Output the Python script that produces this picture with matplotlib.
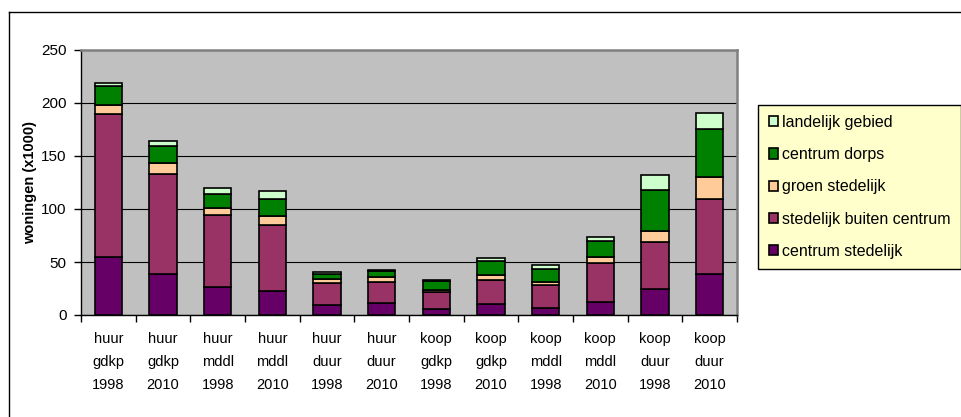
import matplotlib
matplotlib.use("Agg")
import matplotlib.pyplot as plt
import numpy as np
from matplotlib.lines import Line2D

plt.rcParams['font.family'] = ['Liberation Sans', 'DejaVu Sans']

# data (x1000 woningen)
categories = ["huur\ngdkp\n1998", "huur\ngdkp\n2010", "huur\nmddl\n1998", "huur\nmddl\n2010",
              "huur\nduur\n1998", "huur\nduur\n2010", "koop\ngdkp\n1998", "koop\ngdkp\n2010",
              "koop\nmddl\n1998", "koop\nmddl\n2010", "koop\nduur\n1998", "koop\nduur\n2010"]
centrum_stedelijk = [55, 39, 26, 23, 9, 11, 6, 10, 7, 12.5, 24.5, 39]
stedelijk_buiten = [135, 94, 68, 62, 21, 20.5, 16, 23, 21.5, 36.5, 44.5, 70.5]
groen_stedelijk = [8, 10, 7, 8.5, 4, 4, 2, 4.5, 2.5, 6, 10.5, 20.5]
centrum_dorps = [18, 16, 13, 16, 4.5, 6, 8, 13.5, 12.5, 14.5, 38, 45]
landelijk_gebied = [3, 5, 6, 7.5, 2, 1.2, 1.2, 3, 4, 4.5, 14.5, 15.5]

series = [("centrum stedelijk", centrum_stedelijk, "#660066"),
          ("stedelijk buiten centrum", stedelijk_buiten, "#993366"),
          ("groen stedelijk", groen_stedelijk, "#FFCC99"),
          ("centrum dorps", centrum_dorps, "#008000"),
          ("landelijk gebied", landelijk_gebied, "#CCFFCC")]

W, H = 962, 417
fig = plt.figure(figsize=(W / 100, H / 100), dpi=100)
fig.patch.set_facecolor("white")

# outer chart frame (cut off at right and bottom)
fig.add_artist(Line2D([9 / W, 1.0], [1 - 12 / H, 1 - 12 / H], color="black", lw=1, transform=fig.transFigure))
fig.add_artist(Line2D([9 / W, 9 / W], [0, 1 - 12 / H], color="black", lw=1, transform=fig.transFigure))

ax = fig.add_axes([81 / W, 1 - 315 / H, (737 - 81) / W, (315 - 50) / H])
ax.set_facecolor("#C0C0C0")

x = np.arange(len(categories))
bottom = np.zeros(len(categories))
handles = []
for name, vals, col in series:
    vals = np.array(vals, dtype=float)
    b = ax.bar(x, vals, 0.5, bottom=bottom, color=col, edgecolor="black", linewidth=1.2, label=name, zorder=3)
    handles.append(b)
    bottom += vals

ax.set_xlim(-0.5, len(categories) - 0.5)
ax.set_ylim(0, 250)
ax.set_yticks(np.arange(0, 251, 50))
ax.yaxis.grid(True, color="black", lw=0.8, zorder=1)
ax.set_axisbelow(True)

ax.set_xticks(x)
ax.set_xticklabels(categories, fontsize=10.5, linespacing=1.78)
ax.set_xticks(np.arange(-0.5, len(categories), 1), minor=True)
ax.tick_params(axis="x", which="major", length=0, pad=12.5)
ax.tick_params(axis="x", which="minor", length=5, width=1, direction="out")
ax.tick_params(axis="y", length=5, width=1, labelsize=11, pad=5.5)

for s in ["left", "bottom"]:
    ax.spines[s].set_color("black")
    ax.spines[s].set_linewidth(1)
for s in ["top", "right"]:
    ax.spines[s].set_color("#808080")
    ax.spines[s].set_linewidth(1.8)

ax.set_ylabel("woningen (x1000)", fontsize=10.5, fontweight="bold", labelpad=3)

leg = fig.legend(handles[::-1], [s[0] for s in series][::-1],
                 loc="upper left", bbox_to_anchor=(758.5 / W, 1 - 104.5 / H),
                 fontsize=11.5, frameon=True, fancybox=False, framealpha=1,
                 handlelength=0.55, handleheight=0.6, handletextpad=0.3,
                 labelspacing=1.08, borderpad=0.65, borderaxespad=0)
leg.get_frame().set_facecolor("#FFFFCC")
leg.get_frame().set_edgecolor("black")
leg.get_frame().set_linewidth(1)

fig.savefig("out.png", dpi=100)
